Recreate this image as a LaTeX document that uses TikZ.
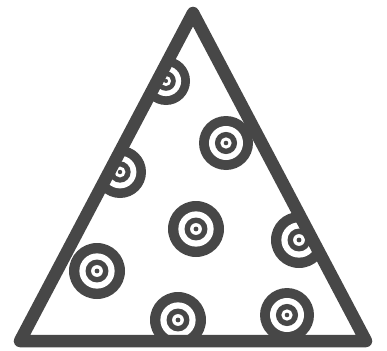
\documentclass[tikz,border=0pt]{standalone}
\definecolor{ink}{HTML}{474747}
\newcommand{\drawtarget}[3]{%
  \fill[ink] (#1,#2) circle[radius=#3];
  \fill[white] (#1,#2) circle[radius=0.63*#3];
  \fill[ink] (#1,#2) circle[radius=0.41*#3];
  \fill[white] (#1,#2) circle[radius=0.21*#3];
  \fill[ink] (#1,#2) circle[radius=0.085*#3];
}
\tikzset{frame/.style={draw=ink, line width=12.5pt, line join=round}}
\begin{document}
\begin{tikzpicture}[x=1pt,y=-1pt]
\fill[white] (0,0) rectangle (387,350);
\useasboundingbox (0,0) rectangle (387,350);
\coordinate (T) at (193,13);
\coordinate (L) at (20,341);
\coordinate (R) at (366,341);
\begin{scope}
  \clip (T) -- (L) -- (R) -- cycle;
  \drawtarget{166}{81}{24}
  \drawtarget{226}{143}{27}
  \drawtarget{120}{172}{26}
  \drawtarget{196}{229}{28}
  \drawtarget{299}{240}{28}
  \drawtarget{97}{271}{28}
  \drawtarget{178}{320}{28}
  \drawtarget{287}{315}{27}
\end{scope}
\draw[frame] (T) -- (L) -- (R) -- cycle;
\end{tikzpicture}
\end{document}
